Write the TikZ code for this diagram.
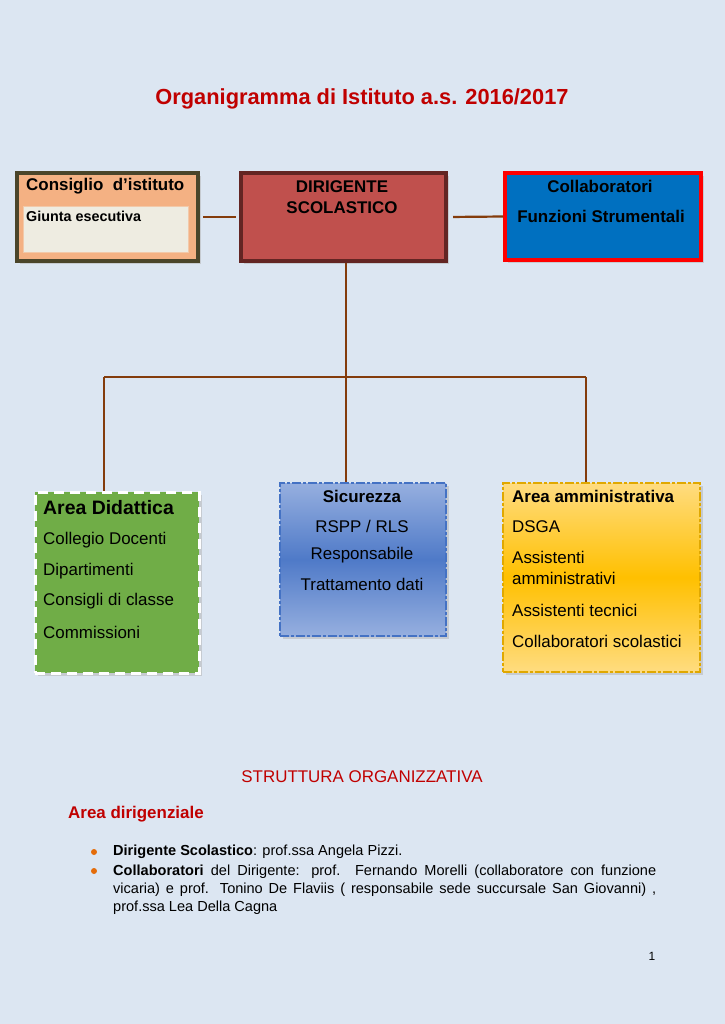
\documentclass[tikz,border=0pt]{standalone}
\usepackage{fontspec}
\setmainfont{Liberation Sans}
\usetikzlibrary{positioning,shadows}
\definecolor{pagebg}{HTML}{DCE6F2}
\definecolor{titlered}{HTML}{C00000}
\definecolor{linkbrown}{HTML}{843C0C}
\definecolor{peach}{HTML}{F4B183}
\definecolor{olive}{HTML}{4A452A}
\definecolor{cream}{HTML}{EEECE1}
\definecolor{dirred}{HTML}{C0504D}
\definecolor{darkred}{HTML}{632523}
\definecolor{collblue}{HTML}{0070C0}
\definecolor{didgreen}{HTML}{70AD47}
\definecolor{sicblue}{HTML}{4472C4}
\definecolor{siclight}{HTML}{96AFDF}
\definecolor{sicmid}{HTML}{4F7AC8}
\definecolor{amgold}{HTML}{FFC000}
\definecolor{amgoldlt}{HTML}{FFDC80}
\definecolor{amgolddk}{HTML}{E0A800}
\definecolor{dotorange}{HTML}{E46C0A}

\begin{document}
\begin{tikzpicture}[x=1bp, y=-1bp, inner sep=0pt,
    box/.style = {rectangle, anchor=north west, drop shadow={shadow xshift=2.5bp, shadow yshift=-2.5bp, fill=black!30}},
    link/.style = {draw=linkbrown, line width=2.2bp},
    head/.style = {font=\fontsize{17}{20}\selectfont\bfseries},
    item/.style = {font=\fontsize{17}{20}\selectfont, anchor=west},
    dot/.style = {circle, fill=dotorange, minimum size=6bp},
    para/.style = {font=\fontsize{14.6}{18}\selectfont}]

  % page
  \fill[pagebg] (0,0) rectangle (725,1024);
  \useasboundingbox (0,0) rectangle (725,1024);

  \node[font=\fontsize{21.9}{26}\selectfont\bfseries, text=titlered] (T) at (362,99) {Organigramma di Istituto a.s. 2016/2017};

  % top row
  \node[box, fill=peach, draw=olive, line width=4bp, minimum width=181bp, minimum height=88bp] (C) at (15,171) {};
  \node[rectangle, anchor=north west, fill=cream, draw=peach!60!cream, line width=0.6bp, minimum width=165bp, minimum height=46bp] (G) at (23,206) {};
  \node[head, anchor=west] (Ct) at (26,186) {Consiglio~ d’istituto};
  \node[font=\fontsize{14.4}{17}\selectfont\bfseries, anchor=west] (Gt) at (26,216) {Giunta esecutiva};

  \node[box, fill=dirred, draw=darkred, line width=4bp, minimum width=205bp, minimum height=88bp] (D) at (239,171) {};
  \node[head, align=center, font=\fontsize{17}{21}\selectfont\bfseries] (Dt) at (342,197) {DIRIGENTE\\SCOLASTICO};

  \node[box, fill=collblue, draw=red, line width=4bp, minimum width=196bp, minimum height=87bp] (F) at (503,171) {};
  \node[head] (Ft1) at (600,186) {Collaboratori};
  \node[head] (Ft2) at (601,216) {Funzioni Strumentali};

  % bottom row
  \node[box, fill=didgreen, draw=white, line width=2.5bp, dash pattern=on 10bp off 6bp, minimum width=164bp, minimum height=181bp] (A) at (34,491) {};
  \node[font=\fontsize{19.5}{23}\selectfont\bfseries, anchor=west] (At) at (43,508) {Area Didattica};
  \node[item] (A1) at (43,540) {Collegio Docenti};
  \node[item] (A2) at (43,571) {Dipartimenti};
  \node[item] (A3) at (43,601) {Consigli di classe};
  \node[item] (A4) at (43,632) {Commissioni};

  \node[box, top color=siclight, bottom color=siclight, middle color=sicmid, draw=sicblue, line width=2bp, dash pattern=on 9bp off 2bp on 3bp off 2bp, minimum width=166bp, minimum height=153bp] (S) at (279,482) {};
  \node[head] (St) at (362,496) {Sicurezza};
  \node[item, anchor=center] (S1) at (362,526) {RSPP / RLS};
  \node[item, anchor=center] (S2) at (362,555) {Responsabile};
  \node[item, anchor=center] (S3) at (362,584) {Trattamento dati};

  \node[box, top color=amgoldlt, bottom color=amgoldlt, middle color=amgold, draw=amgolddk, line width=2bp, dash pattern=on 9bp off 2bp on 3bp off 2bp, minimum width=197bp, minimum height=189bp] (M) at (502,482) {};
  \node[head, anchor=west] (Mt) at (512,496) {Area amministrativa};
  \node[item] (M1) at (512,527) {DSGA};
  \node[item, align=left, font=\fontsize{17}{21}\selectfont] (M2) at (512,568) {Assistenti\\amministrativi};
  \node[item] (M3) at (512,610) {Assistenti tecnici};
  \node[item] (M4) at (512,641) {Collaboratori scolastici};

  % connectors
  \coordinate (J) at (346,377);
  \coordinate (JL) at (104,377);
  \coordinate (JR) at (586,377);
  \draw[link, shorten <=3bp, shorten >=3bp] (C.east) -- (D.west);
  \draw[link, shorten <=5bp] (D.east) -- (F.west);
  \draw[link] (J |- D.south) -- (J |- S.north);
  \draw[link] (JL) -- (JR);
  \draw[link] (JL) -- (JL |- A.north);
  \draw[link] (JR) -- (JR |- M.north);

  % text below
  \node[font=\fontsize{17}{20}\selectfont, text=titlered] (SO) at (362,777) {STRUTTURA ORGANIZZATIVA};
  \node[head, text=titlered, anchor=west] (AD) at (68,814) {Area dirigenziale};

  \node[dot] (B1) at (94,852) {};
  \node[dot] (B2) at (94,871) {};
  \node[para, anchor=west] (P1) at (113,852) {\textbf{Dirigente Scolastico}: prof.ssa Angela Pizzi.};
  \node[para, anchor=north west, text width=543bp, align=justify] (P2) at (113,865)
    {\hyphenpenalty=10000 \textbf{Collaboratori} del Dirigente: prof. Fernando Morelli (collaboratore con funzione\linebreak vicaria) e prof. Tonino De Flaviis ( responsabile sede succursale San Giovanni) ,\linebreak prof.ssa Lea Della Cagna};

  \node[font=\fontsize{12}{14}\selectfont] (N) at (652,956) {1};
\end{tikzpicture}
\end{document}
